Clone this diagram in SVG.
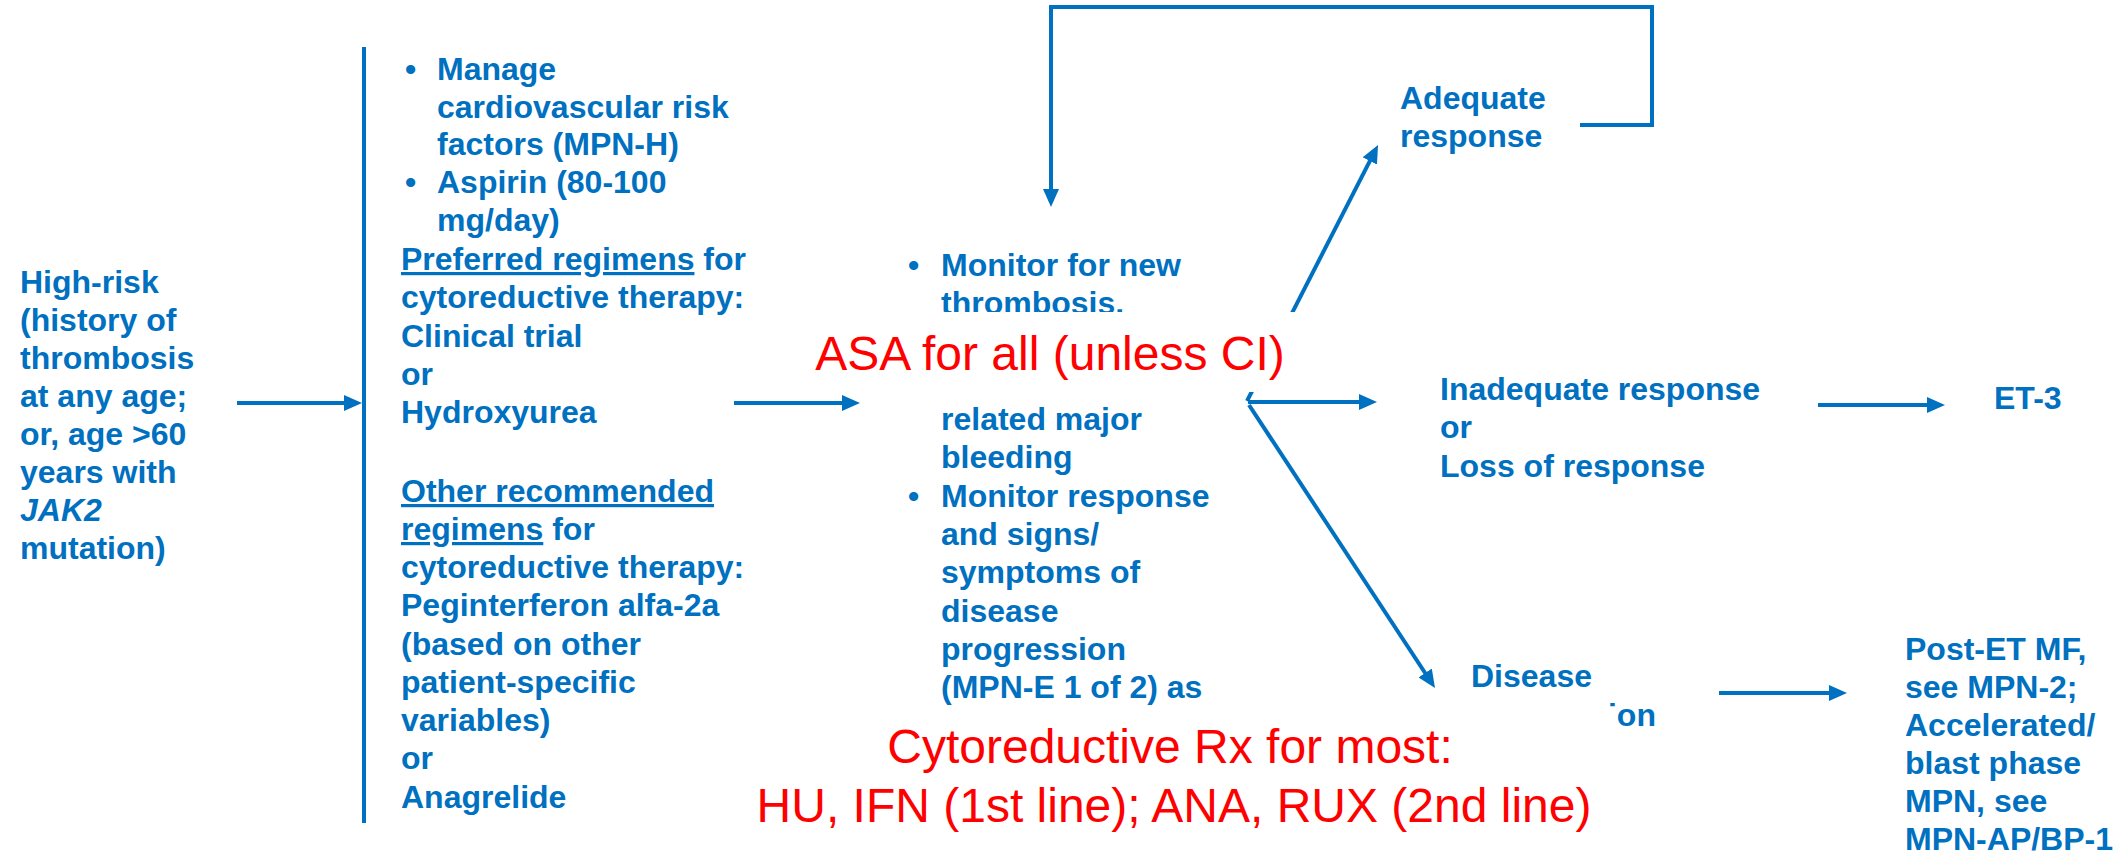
<svg xmlns="http://www.w3.org/2000/svg" width="2126" height="855" viewBox="0 0 2126 855">
<style>
.b{font-family:"Liberation Sans",Arial,sans-serif;font-weight:bold;font-size:32px;fill:#0070C0}
.r{font-family:"Liberation Sans",Arial,sans-serif;font-size:48px;fill:#FF0000}
.c{fill:none;stroke:#0070C0;stroke-width:4}
.u{text-decoration:underline}
.mask{fill:#FFFFFF}
</style>
<defs>
<marker id="ah" markerUnits="userSpaceOnUse" markerWidth="18" markerHeight="16" refX="12" refY="8" orient="auto">
<path d="M0,0 L18,8 L0,16 z" fill="#0070C0"/>
</marker>
</defs>
<rect width="2126" height="855" fill="#FFFFFF"/>
<g id="connectors">
<path class="c" d="M237,403 H356" marker-end="url(#ah)"/>
<path class="c" d="M364,47 V823"/>
<path class="c" d="M734,403 H854" marker-end="url(#ah)"/>
<path class="c" d="M1247,401 L1375.3,150.3" marker-end="url(#ah)"/>
<path class="c" d="M1248,402 H1371" marker-end="url(#ah)"/>
<path class="c" d="M1249,405 L1431.7,683" marker-end="url(#ah)"/>
<path class="c" d="M1818,405 H1939" marker-end="url(#ah)"/>
<path class="c" d="M1719,693 H1841" marker-end="url(#ah)"/>
<path class="c" d="M1580,125 H1652 V7 H1051 V201" marker-end="url(#ah)"/>
</g>
<g id="n-highrisk">
<text class="b" x="20" y="293">High-risk</text>
<text class="b" x="20" y="331">(history of</text>
<text class="b" x="20" y="369">thrombosis</text>
<text class="b" x="20" y="407">at any age;</text>
<text class="b" x="20" y="445">or, age &gt;60</text>
<text class="b" x="20" y="483">years with</text>
<text class="b" x="20" y="521" font-style="italic">JAK2</text>
<text class="b" x="20" y="559">mutation)</text>
</g>
<g id="n-treatment">
<text class="b" x="405" y="80">•</text>
<text class="b" x="437" y="80">Manage</text>
<text class="b" x="437" y="118">cardiovascular risk</text>
<text class="b" x="437" y="155">factors (MPN-H)</text>
<text class="b" x="405" y="193">•</text>
<text class="b" x="437" y="193">Aspirin (80-100</text>
<text class="b" x="437" y="231">mg/day)</text>
<text class="b" x="401" y="270"><tspan class="u">Preferred regimens</tspan> for</text>
<text class="b" x="401" y="308">cytoreductive therapy:</text>
<text class="b" x="401" y="347">Clinical trial</text>
<text class="b" x="401" y="385">or</text>
<text class="b" x="401" y="423">Hydroxyurea</text>
<text class="b" x="401" y="502"><tspan class="u">Other recommended</tspan></text>
<text class="b" x="401" y="540"><tspan class="u">regimens</tspan> for</text>
<text class="b" x="401" y="578">cytoreductive therapy:</text>
<text class="b" x="401" y="616">Peginterferon alfa-2a</text>
<text class="b" x="401" y="655">(based on other</text>
<text class="b" x="401" y="693">patient-specific</text>
<text class="b" x="401" y="731">variables)</text>
<text class="b" x="401" y="769">or</text>
<text class="b" x="401" y="808">Anagrelide</text>
</g>
<g id="n-monitor">
<text class="b" x="908" y="276">•</text>
<text class="b" x="941" y="276">Monitor for new</text>
<text class="b" x="941" y="314">thrombosis.</text>
<text class="b" x="941" y="430">related major</text>
<text class="b" x="941" y="468">bleeding</text>
<text class="b" x="908" y="507">•</text>
<text class="b" x="941" y="507">Monitor response</text>
<text class="b" x="941" y="545">and signs/</text>
<text class="b" x="941" y="583">symptoms of</text>
<text class="b" x="941" y="622">disease</text>
<text class="b" x="941" y="660">progression</text>
<text class="b" x="941" y="698">(MPN-E 1 of 2) as</text>
</g>
<g id="n-asa">
<rect class="mask" x="790" y="312" width="512" height="80"/>
<text class="r" x="1050" y="370" text-anchor="middle">ASA for all (unless CI)</text>
</g>
<g id="n-adequate">
<text class="b" x="1400" y="109">Adequate</text>
<text class="b" x="1400" y="147">response</text>
</g>
<g id="n-inadequate">
<text class="b" x="1440" y="400">Inadequate response</text>
<text class="b" x="1440" y="438">or</text>
<text class="b" x="1440" y="477">Loss of response</text>
</g>
<g id="n-et3">
<text class="b" x="1994" y="409">ET-3</text>
</g>
<g id="n-disease">
<text class="b" x="1471" y="687">Disease</text>
<text class="b" x="1471" y="726">progression</text>
</g>
<g id="n-cyto">
<rect class="mask" x="740" y="707" width="876" height="140"/>
<text class="r" x="1170" y="763" text-anchor="middle">Cytoreductive Rx for most:</text>
<text class="r" x="1174" y="822" text-anchor="middle">HU, IFN (1st line); ANA, RUX (2nd line)</text>
</g>
<g id="n-postet">
<text class="b" x="1905" y="660">Post-ET MF,</text>
<text class="b" x="1905" y="698">see MPN-2;</text>
<text class="b" x="1905" y="736">Accelerated/</text>
<text class="b" x="1905" y="774">blast phase</text>
<text class="b" x="1905" y="812">MPN, see</text>
<text class="b" x="1905" y="850">MPN-AP/BP-1</text>
</g>
</svg>
